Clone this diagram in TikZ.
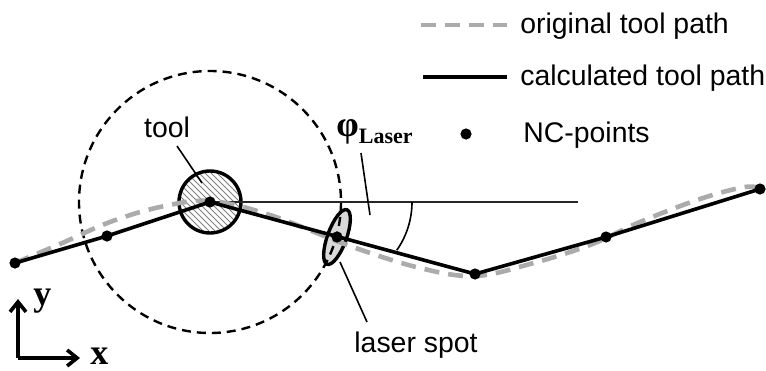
\documentclass[tikz,border=0pt]{standalone}
\usepackage{fontspec}
\setmainfont{Liberation Sans}
\newfontfamily\timesfont{Liberation Serif}
\usetikzlibrary{patterns,arrows.meta,shapes.geometric}
\begin{document}
\begin{tikzpicture}[
    x=0.5pt,
    y=-0.5pt,
    font=\fontsize{14.2}{17}\selectfont,
    ncpoint/.style={circle, fill=black, inner sep=0pt, minimum size=5.6pt},
    origpath/.style={black!33, line width=2.3pt, dash pattern=on 7.5pt off 4.5pt},
    calcpath/.style={black, line width=1.8pt},
    pointer/.style={black, line width=0.8pt},
    axisarrow/.style={line width=1.8pt, -{Straight Barb[length=5pt,width=8pt]}},
    serifbold/.style={font=\timesfont\bfseries\fontsize{18}{20}\selectfont}
  ]
    \useasboundingbox (0,0) rectangle (766,370);

    % NC-Punkte und Laserfleck
    \coordinate (tool) at (210,202);
    \coordinate (spot) at (337,237);

    % Werkzeug (schraffiert) und Laserfleck
    \draw[line width=1.7pt, pattern=north west lines, pattern color=gray]
      (tool) circle[radius=31];
    \node[draw, ellipse, line width=1.7pt, fill=black!15, inner sep=0pt,
      minimum width=29pt, minimum height=9.5pt, rotate=70] (spotshape) at (spot) {};

    % Laserkreis um das Werkzeug
    \draw[line width=1.2pt, dash pattern=on 4.5pt off 3pt] (tool) circle[radius=131];

    % Bezugslinie und Winkel
    \coordinate (refend) at (578,202);
    \draw[black!85, line width=0.9pt] (tool) -- (refend);
    \coordinate (arcstart) at (412,202);
    \draw[pointer] (arcstart) arc[start angle=0, end angle=35, radius=84];

    % --- Originale Bahn (grau gestrichelt) ---
    \draw[origpath] plot[smooth, tension=0.6] coordinates {
      (15,263) (60,244) (110,222) (160,207) (210,201) (270,215) (350,246)
      (420,268) (475,276) (530,264) (590,245) (640,222) (700,199) (745,187)
      (762,189)};

    % --- Berechnete Bahn ---
    \node[ncpoint] (p1) at (15,263) {};
    \node[ncpoint] (p2) at (107,236) {};
    \node[ncpoint] (p3) at (tool) {};
    \node[ncpoint] (p4) at (475,274) {};
    \node[ncpoint] (p5) at (606,237) {};
    \node[ncpoint] (p6) at (760,189) {};
    \node[ncpoint] (p7) at (spot) {};
    \draw[calcpath] (p1.center) -- (p2.center) -- (p3.center) -- (p4.center)
      -- (p5.center) -- (p6.center);

    % Beschriftungen
    \node[anchor=base] (toollbl) at (167,137) {tool};
    \coordinate (toolptr) at (177,146);
    \coordinate (toolin) at (202,183);
    \draw[pointer] (toolptr) -- (toolin);

    \node[serifbold, anchor=base west, inner sep=0pt] (philbl) at (336,136)
      {φ\raisebox{-3.5pt}{\fontsize{11}{12}\selectfont Laser}};
    \coordinate (phiptr) at (361,153);
    \coordinate (phiin) at (370,215);
    \draw[pointer] (phiptr) -- (phiin);

    \node[anchor=base] (spotlbl) at (416,352) {laser spot};
    \coordinate (spotin) at (340,262);
    \coordinate (spotptr) at (367,322);
    \draw[pointer] (spotin) -- (spotptr);

    % Koordinatensystem
    \coordinate (orig) at (18,358);
    \coordinate (ytip) at (18,299);
    \coordinate (xtip) at (80,358);
    \draw[axisarrow] (orig) -- (ytip);
    \draw[axisarrow] (orig) -- (xtip);
    \node[serifbold, anchor=base west, inner sep=0pt] (ylbl) at (33,305) {y};
    \node[serifbold, anchor=base west, inner sep=0pt] (xlbl) at (90,364) {x};

    % Legende
    \coordinate (leg1a) at (421,25);
    \coordinate (leg1b) at (507,25);
    \draw[origpath] (leg1a) -- (leg1b);
    \node[anchor=base west, inner sep=0pt] (leg1) at (520,33) {original tool path};
    \coordinate (leg2a) at (423,77);
    \coordinate (leg2b) at (507,77);
    \draw[calcpath] (leg2a) -- (leg2b);
    \node[anchor=base west, inner sep=0pt] (leg2) at (520,85) {calculated tool path};
    \node[ncpoint] (legdot) at (466,134) {};
    \node[anchor=base west, inner sep=0pt] (leg3) at (523,142) {NC-points};
  \end{tikzpicture}
\end{document}
